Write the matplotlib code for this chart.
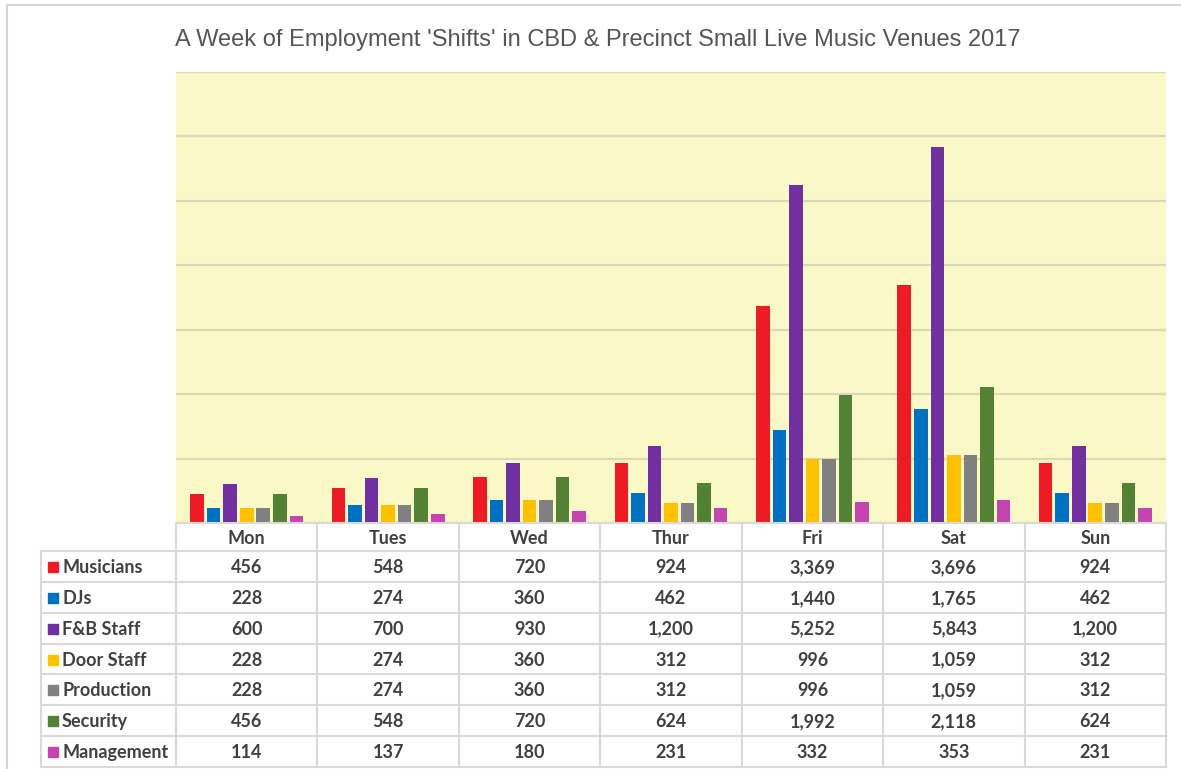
import matplotlib.pyplot as plt
from matplotlib.patches import Rectangle
import numpy as np

days = ['Mon', 'Tues', 'Wed', 'Thur', 'Fri', 'Sat', 'Sun']
roles = ['Musicians', 'DJs', 'F&B Staff', 'Door Staff', 'Production', 'Security', 'Management']
musicians = [456, 548, 720, 924, 3369, 3696, 924]
djs = [228, 274, 360, 462, 1440, 1765, 462]
fb_staff = [600, 700, 930, 1200, 5252, 5843, 1200]
door_staff = [228, 274, 360, 312, 996, 1059, 312]
production = [228, 274, 360, 312, 996, 1059, 312]
security = [456, 548, 720, 624, 1992, 2118, 624]
management = [114, 137, 180, 231, 332, 353, 231]
series = [musicians, djs, fb_staff, door_staff, production, security, management]
colors = ['#ED1C24', '#0070C0', '#7030A0', '#FFC000', '#808080', '#548235', '#C545B0']

W, H = 1181, 769
fig = plt.figure(figsize=(W / 100, H / 100), dpi=100)
fig.patch.set_facecolor('white')

# pixel helpers for the layout
def fx(px):
    return px / W

def fy(py):
    return 1 - py / H

left, right, top, base = 176, 1166, 72, 523
ax = fig.add_axes([fx(left), fy(base), fx(right) - fx(left), fy(top) - fy(base)])
ax.set_facecolor('#FBF8C8')
x = np.arange(len(days))
step, bw = 0.117, 0.096
for k, (vals, c) in enumerate(zip(series, colors)):
    ax.bar(x + (k - 3) * step, vals, width=bw, color=c, zorder=3)
ax.set_xlim(-0.5, len(days) - 0.5)
ax.set_ylim(0, 7000)
ax.set_yticks(range(0, 7001, 1000))
ax.grid(axis='y', color='#DAD7B6', lw=1.6, zorder=0)
ax.tick_params(left=False, bottom=False, labelleft=False, labelbottom=False)
for s in ax.spines.values():
    s.set_visible(False)

# overlay in pixel coordinates for the frame and the data table
ov = fig.add_axes([0, 0, 1, 1], zorder=-1)
ov.set_xlim(0, W)
ov.set_ylim(H, 0)
ov.axis('off')
ov.plot([7, 7], [5, H], color='#D4D4D4', lw=1.5)
ov.plot([7, W], [5, 5], color='#D4D4D4', lw=1.5)

fig.text(fx(598), fy(40), "A Week of Employment 'Shifts' in CBD & Precinct Small Live Music Venues 2017",
         ha='center', va='center', fontsize=17, color='#555555', family='Liberation Sans')

cols = np.linspace(left, right, len(days) + 1)
rows = np.linspace(551, 767, len(roles) + 1)
lc = '#D9D9D9'
tfont = dict(family='Lato', fontsize=13, color='#404040', fontweight='bold')

t2 = fig.add_axes([0, 0, 1, 1])
t2.set_xlim(0, W)
t2.set_ylim(H, 0)
t2.axis('off')
t2.patch.set_alpha(0)
t2.plot([left, right], [base, base], color=lc, lw=1.5)
for yy in rows:
    t2.plot([41, right], [yy, yy], color=lc, lw=1.5)
for xx in cols:
    t2.plot([xx, xx], [base, rows[-1]], color=lc, lw=1.5)
t2.plot([41, 41], [rows[0], rows[-1]], color=lc, lw=1.5)

for j, d in enumerate(days):
    t2.text((cols[j] + cols[j + 1]) / 2, (base + rows[0]) / 2 + 1, d, ha='center', va='center', **tfont)
for i, (r, vals, c) in enumerate(zip(roles, series, colors)):
    yc = (rows[i] + rows[i + 1]) / 2 + 1
    t2.add_patch(Rectangle((48, yc - 5.5), 10, 10, color=c))
    t2.text(62, yc, r, ha='left', va='center', **tfont)
    for j, v in enumerate(vals):
        t2.text((cols[j] + cols[j + 1]) / 2, yc, f'{v:,}', ha='center', va='center', **tfont)

fig.savefig('out.png', dpi=100)
